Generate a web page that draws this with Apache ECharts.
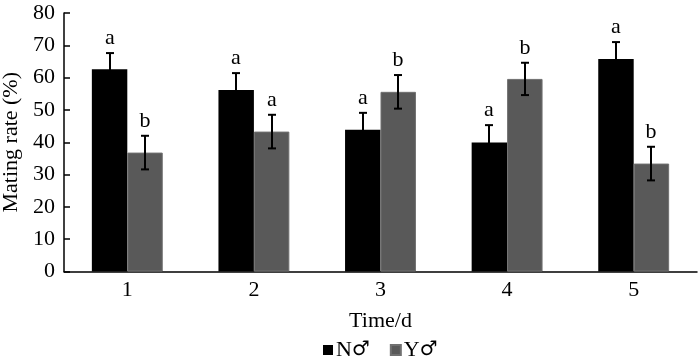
<!DOCTYPE html>
<html>
<head>
<meta charset="utf-8">
<script src="https://cdn.jsdelivr.net/npm/echarts@6/dist/echarts.min.js"></script>
<style>
  html, body { margin: 0; padding: 0; background: #fff; }
  #chart { width: 700px; height: 361px; }
</style>
</head>
<body>
<div id="chart"></div>
<script>
// 数据：交配率 (%) 及标准误
const days = ['1', '2', '3', '4', '5'];
const nValues = [62.6, 56.2, 43.9, 39.9, 65.8];
const nErrors = [5.0, 5.2, 5.2, 5.4, 5.2];
const nLetters = ['a', 'a', 'a', 'a', 'a'];
const yValues = [36.8, 43.3, 55.6, 59.6, 33.4];
const yErrors = [5.2, 5.2, 5.2, 5.0, 5.2];
const yLetters = ['b', 'a', 'b', 'b', 'b'];
const yTicks = [0, 10, 20, 30, 40, 50, 60, 70, 80];

const FONT = '"Liberation Serif", "DejaVu Serif", serif';
const FS = 22;
const GAP = 0.44;

const chart = echarts.init(document.getElementById('chart'));

// 误差线 + 显著性字母，side = -1 左边柱，1 右边柱
function errorSeries(name, vals, errs, letters, side) {
  return {
    type: 'custom',
    name: name + '_err',
    z: 10,
    silent: true,
    data: vals.map((v, i) => [i, v, errs[i]]),
    renderItem(params, api) {
      const i = api.value(0);
      const v = api.value(1);
      const e = api.value(2);
      const band = api.size([1, 0])[0];
      const barW = band * (1 - GAP) / 2;
      const x = Math.round(api.coord([i, v])[0] + side * barW / 2);
      const top = api.coord([i, v + e])[1];
      const bot = api.coord([i, v - e])[1];
      const style = { stroke: '#000', lineWidth: 2 };
      return {
        type: 'group',
        children: [
          { type: 'line', shape: { x1: x, y1: top, x2: x, y2: bot }, style },
          { type: 'line', shape: { x1: x - 4, y1: top, x2: x + 4, y2: top }, style },
          { type: 'line', shape: { x1: x - 4, y1: bot, x2: x + 4, y2: bot }, style },
          {
            type: 'text',
            x: x,
            y: top - 4,
            style: {
              text: letters[params.dataIndex],
              font: FS + 'px ' + FONT,
              fill: '#000',
              align: 'center',
              verticalAlign: 'bottom'
            }
          }
        ]
      };
    }
  };
}

chart.setOption({
  animation: false,
  backgroundColor: '#fff',
  textStyle: { fontFamily: FONT, color: '#000' },
  grid: {
    left: 64, right: 3, top: 13, bottom: 89.5,
    containLabel: false,
    outerBoundsMode: 'none'
  },
  legend: {
    bottom: -5,
    left: 318,
    itemWidth: 10,
    itemHeight: 10,
    itemGap: 20,
    icon: 'rect',
    data: ['N♂', 'Y♂'],
    // 性别符号单独放大
    formatter: (n) => '{t|' + n.slice(0, 1) + '}{s|' + n.slice(1) + '}',
    textStyle: {
      fontFamily: FONT, fontSize: FS, color: '#000', padding: [0, 0, 0, -2],
      rich: {
        t: { fontFamily: FONT, fontSize: FS, color: '#000' },
        s: { fontFamily: '"DejaVu Sans"', fontSize: 20, color: '#000' }
      }
    }
  },
  xAxis: {
    type: 'category',
    data: days,
    name: 'Time/d',
    nameLocation: 'middle',
    nameGap: 39,
    nameTextStyle: { fontFamily: FONT, fontSize: FS, color: '#000' },
    axisLine: { lineStyle: { color: '#000', width: 1.5 } },
    axisTick: { show: false },
    axisLabel: { fontFamily: FONT, fontSize: FS, color: '#000', margin: 8 }
  },
  yAxis: {
    type: 'value',
    min: yTicks[0],
    max: yTicks[yTicks.length - 1],
    interval: 10,
    name: 'Mating rate (%)',
    nameLocation: 'middle',
    nameGap: 41,
    nameTextStyle: { fontFamily: FONT, fontSize: FS, color: '#000' },
    splitLine: { show: false },
    axisLine: { show: true, lineStyle: { color: '#000', width: 1.5 } },
    axisTick: { show: true, inside: true, length: 6, lineStyle: { color: '#000', width: 1.5 } },
    axisLabel: { fontFamily: FONT, fontSize: FS, color: '#000', margin: 9 }
  },
  series: [
    {
      name: 'N♂',
      type: 'bar',
      data: nValues,
      barGap: 0,
      barCategoryGap: (GAP * 100) + '%',
      itemStyle: { color: '#000' }
    },
    {
      name: 'Y♂',
      type: 'bar',
      data: yValues,
      barGap: 0,
      barCategoryGap: (GAP * 100) + '%',
      itemStyle: { color: '#595959', borderColor: '#707070', borderWidth: 1 }
    },
    errorSeries('N♂', nValues, nErrors, nLetters, -1),
    errorSeries('Y♂', yValues, yErrors, yLetters, 1)
  ]
});
</script>
</body>
</html>
